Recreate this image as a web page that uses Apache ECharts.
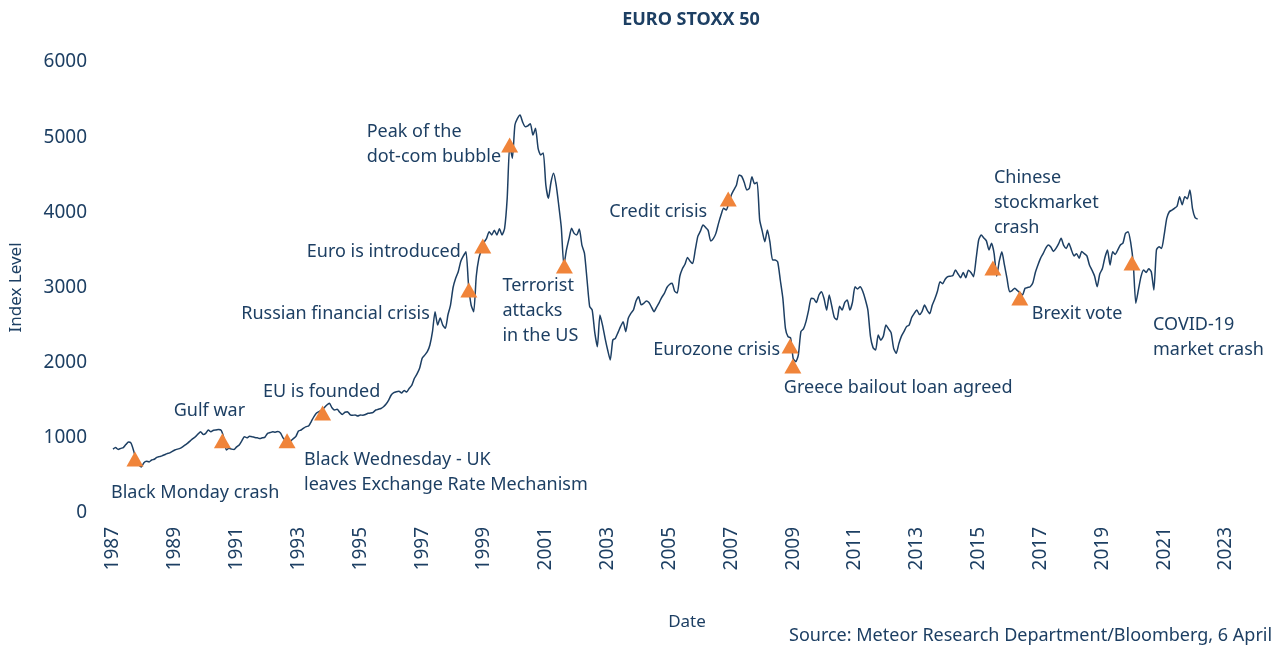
<!DOCTYPE html>
<html>
<head>
<meta charset="utf-8">
<script src="https://cdn.jsdelivr.net/npm/echarts@6/dist/echarts.min.js"></script>
<style>
html,body{margin:0;padding:0;background:#fff;}
#chart{width:1271px;height:648px;}
</style>
</head>
<body>
<div id="chart"></div>
<script>
// ---- Data ----
const startYear = 1987; // monthly observations starting January 1987
const indexLevel = [
  850, 870, 845, 860, 870, 910, 945, 930, 830, 700, 640, 612,
  670, 690, 680, 705, 715, 740, 750, 760, 775, 790, 800, 820,
  838, 850, 860, 880, 905, 930, 960, 990, 1015, 1050, 1082, 1045,
  1060, 1104, 1080, 1100, 1104, 1110, 1100, 1000, 838, 860, 850, 845,
  880, 905, 960, 1015, 1000, 1020, 1015, 1005, 1000, 990, 1000, 1010,
  1060, 1070, 1080, 1075, 1085, 1065, 1000, 960, 930, 960, 990, 1020,
  1090, 1104, 1130, 1149, 1160, 1220, 1281, 1330, 1350, 1370, 1400, 1437,
  1460, 1400, 1370, 1380, 1340, 1310, 1340, 1348, 1310, 1300, 1304, 1290,
  1304, 1300, 1310, 1326, 1330, 1340, 1370, 1380, 1390, 1414, 1450, 1503,
  1570, 1600, 1614, 1620, 1596, 1630, 1610, 1659, 1700, 1792, 1850, 1925,
  2058, 2100, 2146, 2235, 2412, 2678, 2501, 2594, 2500, 2457, 2634, 2767,
  3000, 3122, 3210, 3350, 3420, 3476, 3033, 2767, 2678, 3150, 3388, 3500,
  3600, 3654, 3743, 3700, 3760, 3700, 3780, 3700, 3787, 4186, 4900, 4719,
  5162, 5250, 5295, 5200, 5139, 5150, 5180, 5028, 5117, 4852, 4763, 4790,
  4364, 4186, 4400, 4519, 4364, 4097, 3800, 3299, 3500, 3650, 3787, 3720,
  3700, 3778, 3565, 3455, 3100, 2750, 2700, 2400, 2212, 2634, 2500, 2324,
  2168, 2035, 2301, 2324, 2400, 2480, 2545, 2412, 2590, 2656, 2700, 2820,
  2878, 2770, 2790, 2820, 2800, 2740, 2678, 2740, 2800, 2870, 2922, 3000,
  3040, 3055, 2950, 2926, 3150, 3250, 3310, 3400, 3350, 3320, 3500, 3680,
  3750, 3831, 3800, 3760, 3618, 3650, 3720, 3850, 3964, 4053, 4030, 4120,
  4231, 4300, 4364, 4497, 4480, 4400, 4297, 4320, 4474, 4380, 4400, 3900,
  3750, 3609, 3765, 3600, 3366, 3366, 3340, 3100, 2856, 2457, 2346, 2330,
  2058, 2013, 2100, 2412, 2450, 2550, 2700, 2856, 2850, 2800, 2900, 2945,
  2850, 2700, 2900, 2750, 2600, 2570, 2750, 2700, 2800, 2833, 2700, 2800,
  3010, 2980, 3010, 2950, 2840, 2700, 2350, 2200, 2168, 2368, 2300, 2350,
  2501, 2450, 2400, 2191, 2124, 2250, 2350, 2412, 2480, 2500, 2600, 2656,
  2700, 2640, 2680, 2767, 2700, 2650, 2767, 2850, 2950, 3077, 3050, 3110,
  3144, 3150, 3160, 3233, 3180, 3130, 3200, 3130, 3230, 3200, 3144, 3380,
  3632, 3698, 3660, 3620, 3499, 3588, 3450, 3150, 3350, 3476, 3300, 3122,
  2945, 2960, 2990, 2960, 2930, 2900, 2990, 3000, 3010, 3060, 3200, 3300,
  3388, 3450, 3521, 3565, 3540, 3480, 3520, 3580, 3654, 3560, 3520, 3590,
  3500, 3420, 3450, 3390, 3480, 3450, 3420, 3300, 3230, 3150, 3010, 3180,
  3250, 3400, 3499, 3299, 3476, 3440, 3500, 3565, 3590, 3721, 3743, 3600,
  3322, 2790, 2967, 3144, 3233, 3200, 3250, 3210, 2967, 3499, 3543, 3520,
  3700, 3920, 4008, 4030, 4053, 4080, 4208, 4100, 4208, 4180, 4297, 4050,
  3930, 3910
];

const eventNames = [
  'Black Monday crash',
  'Gulf war',
  'Black Wednesday - UK\nleaves Exchange Rate Mechanism',
  'EU is founded',
  'Russian financial crisis',
  'Euro is introduced',
  'Peak of the\ndot-com bubble',
  'Terrorist\nattacks\nin the US',
  'Credit crisis',
  'Eurozone crisis',
  'Greece bailout loan agreed',
  'Chinese\nstockmarket\ncrash',
  'Brexit vote',
  'COVID-19\nmarket crash'
];
const eventDates = [1987.71, 1990.54, 1992.63, 1993.78, 1998.51, 1998.96, 1999.83,
                    2001.60, 2006.90, 2008.90, 2008.99, 2015.46, 2016.33, 2019.96];
const eventLevels = [720, 960, 960, 1330, 2967, 3552, 4895,
                     3286, 4177, 2222, 1956, 3260, 2860, 3326];

const yearTicks = { min: 1987, max: 2023, step: 2 };
const levelTicks = { min: 0, max: 6000, step: 1000 };

const titleText = 'EURO STOXX 50';
const xAxisTitle = 'Date';
const yAxisTitle = 'Index Level';
const sourceText = 'Source: Meteor Research Department/Bloomberg, 6 April 2022';

// ---- Styling / layout (not data) ----
const navy = '#1d3f63';
const orange = '#f0843a';
const fontFamily = '"Noto Sans", "Open Sans", sans-serif';
// label placement relative to each triangle: [align, dx, dy]
const labelLayout = [
  ['left', -24, 34],
  ['center', -13, -30],
  ['left', 17, 32],
  ['center', -1, -21],
  ['right', -39, 24],
  ['right', -22, 6],
  ['left', -143, -1],
  ['left', -62, 45],
  ['right', -21, 13],
  ['right', -10, 4],
  ['left', -9, 22],
  ['left', 1, -65],
  ['left', 12, 16],
  ['left', 21, 74]
];

const lineData = indexLevel.map((v, i) => [startYear + i / 12, v]);
const eventData = eventNames.map((name, i) => ({
  value: [eventDates[i], eventLevels[i]],
  name: name,
  label: {
    show: true,
    formatter: name,
    position: 'inside',
    align: labelLayout[i][0],
    verticalAlign: 'middle',
    offset: [labelLayout[i][1], labelLayout[i][2]],
    color: navy,
    fontSize: 18,
    lineHeight: 25,
    fontFamily: fontFamily
  }
}));

const chart = echarts.init(document.getElementById('chart'), null, { renderer: 'canvas' });
chart.setOption({
  backgroundColor: '#ffffff',
  animation: false,
  graphic: [
    {
      type: 'text', x: 691, y: 20,
      style: {
        text: titleText, fill: navy, align: 'center', verticalAlign: 'middle',
        font: 'bold 18px ' + fontFamily
      }
    },
    {
      type: 'text', x: 687, y: 622,
      style: {
        text: xAxisTitle, fill: navy, align: 'center', verticalAlign: 'middle',
        font: '17px ' + fontFamily
      }
    },
    {
      type: 'text', x: 789, y: 636,
      style: {
        text: sourceText, fill: navy, align: 'left', verticalAlign: 'middle',
        font: '18px ' + fontFamily
      }
    }
  ],
  grid: { left: 106, right: 45, top: 62, bottom: 135, containLabel: false },
  xAxis: {
    type: 'value',
    min: yearTicks.min,
    max: yearTicks.max,
    interval: yearTicks.step,
    axisLine: { show: false },
    axisTick: { show: false },
    splitLine: { show: false },
    axisLabel: {
      rotate: 90,
      margin: 14,
      color: navy,
      fontSize: 19,
      fontFamily: fontFamily,
      formatter: v => String(v)
    }
  },
  yAxis: {
    type: 'value',
    min: levelTicks.min,
    max: levelTicks.max,
    interval: levelTicks.step,
    name: yAxisTitle,
    nameLocation: 'middle',
    nameGap: 88,
    nameTextStyle: { color: navy, fontSize: 17, fontFamily: fontFamily },
    axisLine: { show: false },
    axisTick: { show: false },
    splitLine: { show: false },
    axisLabel: {
      color: navy, fontSize: 19, margin: 26, fontFamily: fontFamily,
      formatter: v => String(v)
    }
  },
  series: [
    {
      type: 'line',
      data: lineData,
      showSymbol: false,
      smooth: 0.2,
      lineStyle: { color: navy, width: 1.5 },
      z: 2
    },
    {
      type: 'scatter',
      data: eventData,
      symbol: 'triangle',
      symbolSize: [17, 15],
      itemStyle: { color: orange, opacity: 1 },
      z: 3
    }
  ]
});
</script>
</body>
</html>
